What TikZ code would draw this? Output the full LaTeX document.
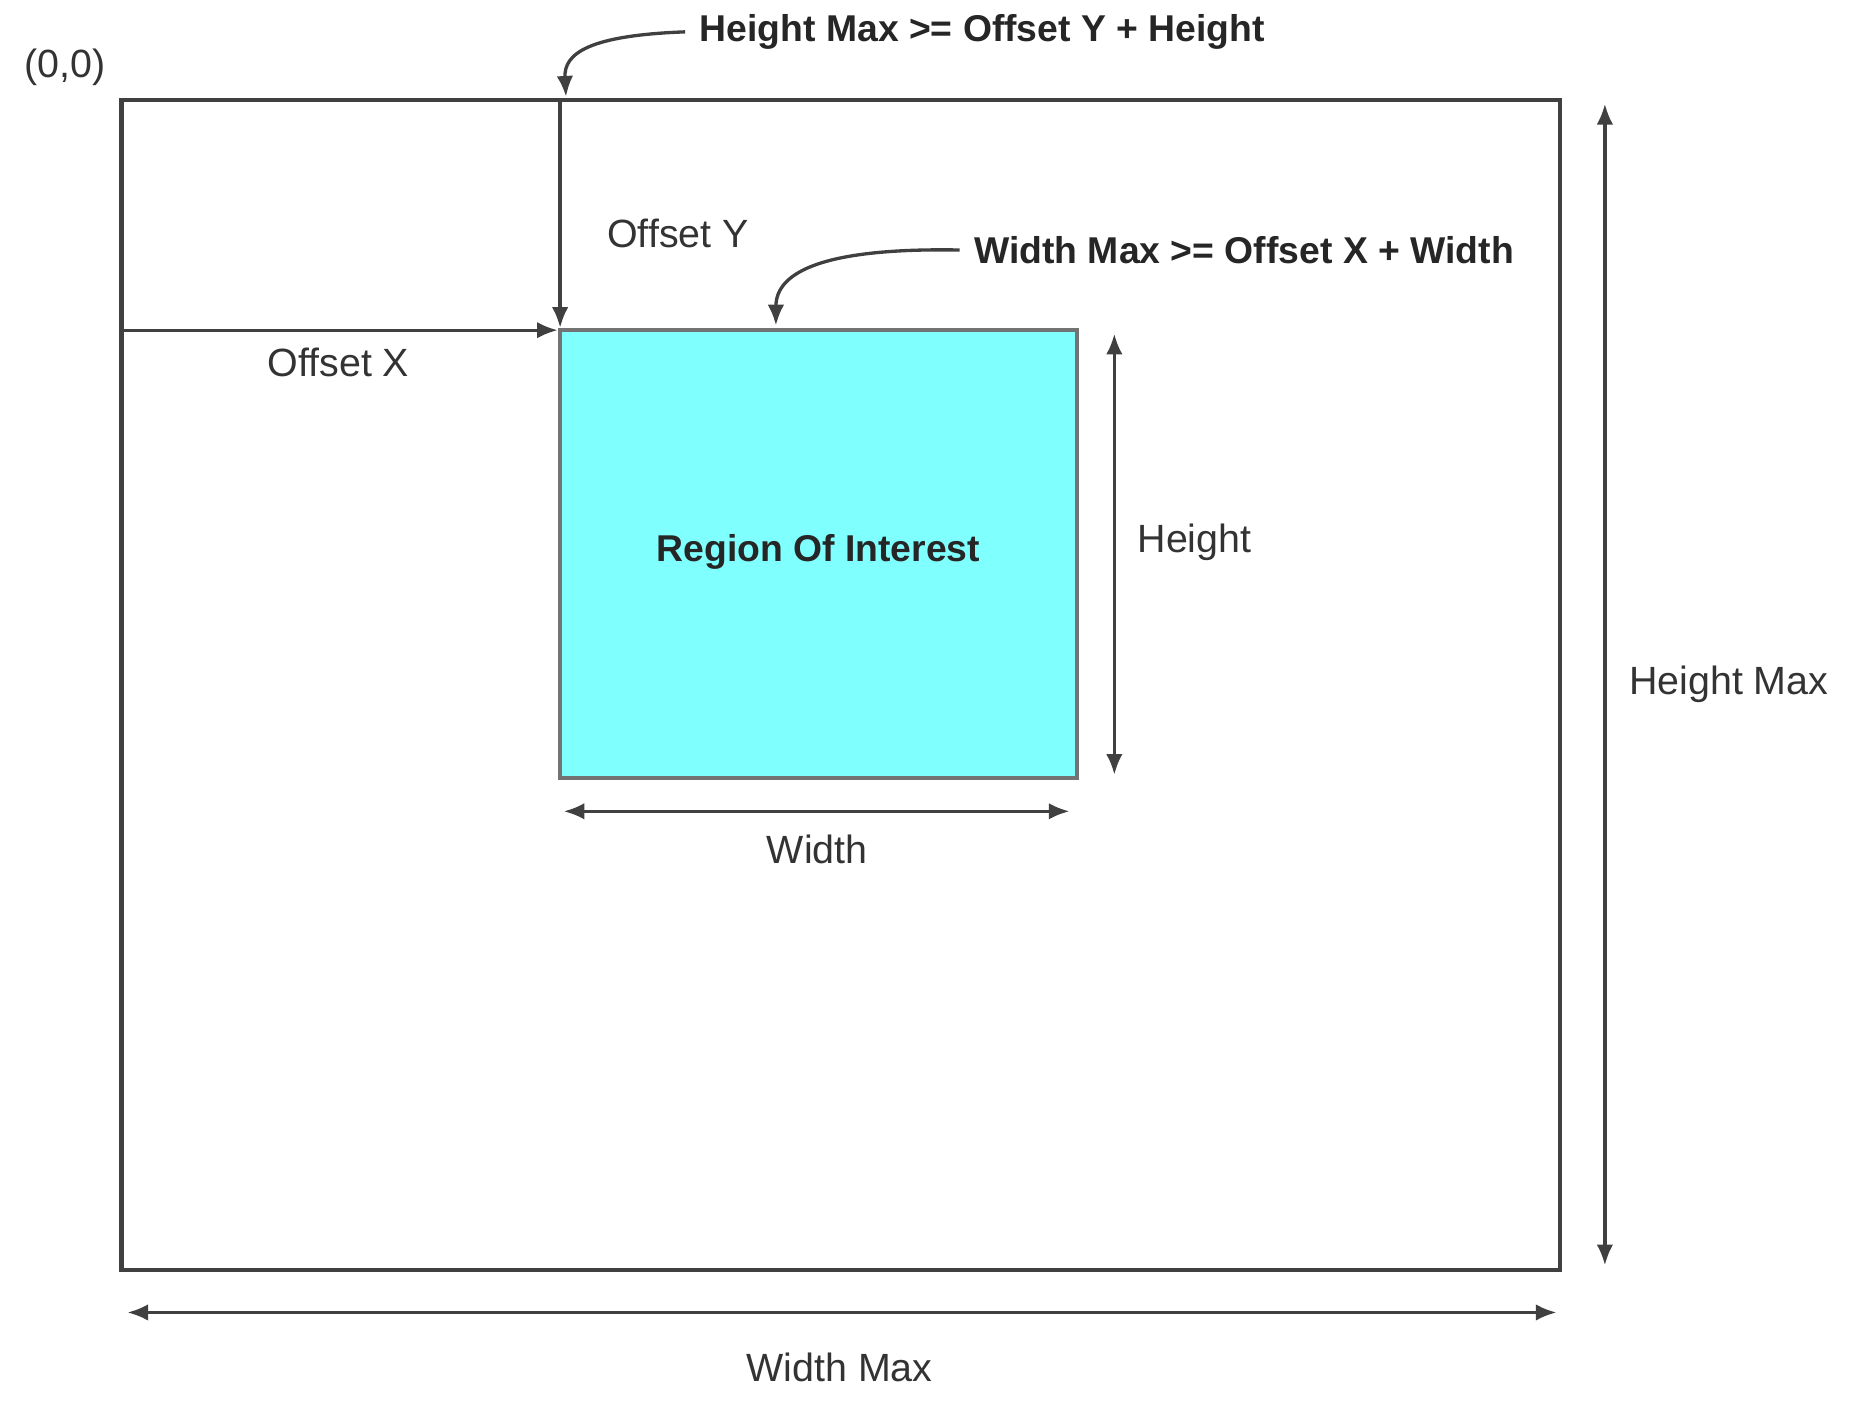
\documentclass[tikz,border=0pt]{standalone}
\usepackage{fontspec}
\setmainfont{Liberation Sans}
\usetikzlibrary{arrows.meta}
\definecolor{roi}{HTML}{80FFFF}
\begin{document}
\begin{tikzpicture}[x=0.01cm,y=-0.01cm,
  line/.style={draw=black!75,line width=0.8pt},
  dim/.style={line,{Latex[length=5pt,width=4pt]}-{Latex[length=5pt,width=4pt]}},
  arr/.style={line,-{Latex[length=5pt,width=4pt]}},
  lbl/.style={font=\fontsize{9.5}{11}\selectfont,text=black!80},
  blbl/.style={font=\fontsize{9}{11}\selectfont\bfseries,text=black!85}]
\useasboundingbox (0,0) rectangle (1568,1190);
\path[draw=black!75,line width=1pt] (103,85) coordinate (o1) rectangle (1323,1077) coordinate (o2);
\path[draw=black!55,fill=roi,line width=1pt] (475,280) coordinate (r1) rectangle (913,660) coordinate (r2);
\node[blbl] (roi) at (694,468) {Region Of Interest};
\coordinate (oyt) at (475,85);
\coordinate (oyb) at (475,278);
\coordinate (oxl) at (103,280);
\coordinate (oxr) at (473,280);
\draw[arr] (oyt) -- (oyb);
\draw[arr] (oxl) -- (oxr);
\node[lbl] (oy) at (575,198) {Offset Y};
\node[lbl] (ox) at (287,307) {Offset X};
\node[lbl] (zero) at (55,57) {(0,0)};
\coordinate (h1) at (945,283); \coordinate (h2) at (945,657);
\draw[dim] (h1) -- (h2);
\node[lbl] (h) at (1013,460) {Height};
\coordinate (w1) at (478,688); \coordinate (w2) at (907,688);
\draw[dim] (w1) -- (w2);
\node[lbl] (w) at (693,720) {Width};
\coordinate (hm1) at (1361,88); \coordinate (hm2) at (1361,1073);
\draw[dim] (hm1) -- (hm2);
\node[lbl] (hm) at (1466,580) {Height Max};
\coordinate (wm1) at (108,1113); \coordinate (wm2) at (1320,1113);
\draw[dim] (wm1) -- (wm2);
\node[lbl] (wm) at (712,1160) {Width Max};
\node[blbl] (c1) at (833,27) {Height Max >= Offset Y + Height};
\node[blbl] (c2) at (1055,212) {Width Max >= Offset X + Width};
\coordinate (c1e) at (480,82);
\coordinate (c2e) at (658,276);
\draw[arr] (c1.west) .. controls (500,30) and (478,45) .. (c1e);
\draw[arr] (c2.west) .. controls (700,210) and (658,230) .. (c2e);
\end{tikzpicture}
\end{document}
